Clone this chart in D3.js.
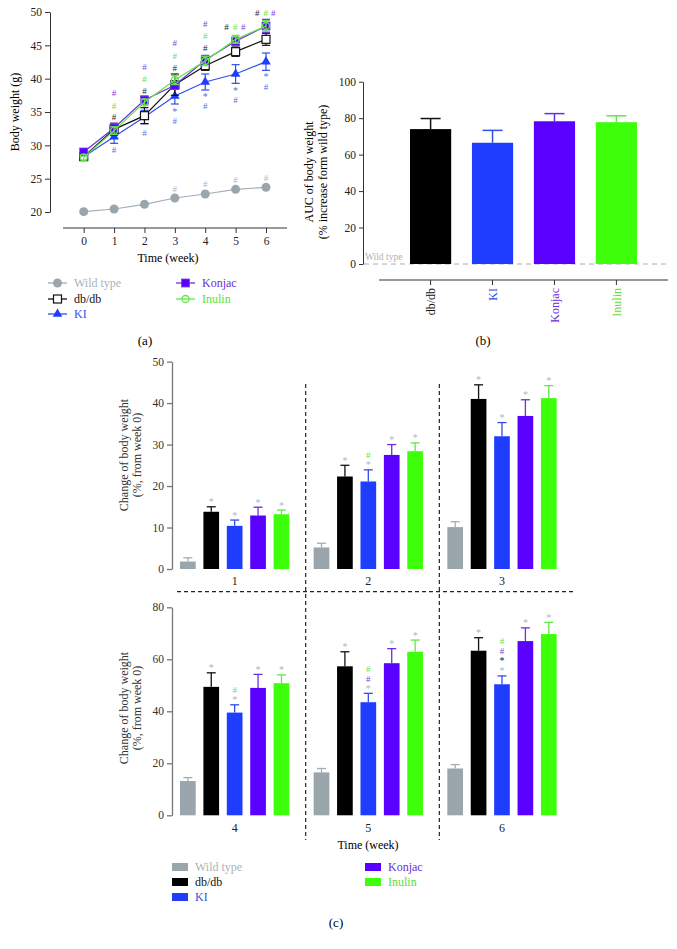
<!DOCTYPE html>
<html><head><meta charset="utf-8">
<script src="https://cdn.jsdelivr.net/npm/d3@7/dist/d3.min.js"></script>
<style>
body{margin:0;background:#fff}
text{font-family:"Liberation Serif","Times New Roman",serif}
</style>
</head><body>
<svg id="chart" width="677" height="949"></svg>
<script>
// ---------- DATA ----------
const groups = ["Wild type", "db/db", "KI", "Konjac", "Inulin"];
const weeks = [0, 1, 2, 3, 4, 5, 6];
// (a) body weight (g)
const bwWild   = [20.05, 20.45, 21.15, 22.1, 22.7, 23.4, 23.7];
const bwDb     = [28.3, 32.4, 34.45, 39.1, 41.95, 44.05, 45.9];
const bwKI     = [28.3, 31.3, 34.25, 37.4, 39.5, 40.7, 42.55];
const bwKonjac = [29.0, 32.6, 36.8, 39.0, 42.8, 45.6, 47.9];
const bwInulin = [28.2, 32.2, 36.45, 39.8, 42.65, 45.9, 47.9];
const seWild   = [0.2, 0.2, 0.2, 0.2, 0.2, 0.2, 0.2];
const seDb     = [0.5, 0.9, 1.2, 1.6, 0.7, 0.7, 0.9];
const seKI     = [0.5, 1.0, 1.0, 1.2, 1.2, 1.4, 1.3];
const seKonjac = [0.5, 0.7, 0.6, 0.6, 0.7, 0.6, 1.0];
const seInulin = [0.4, 0.6, 0.5, 0.7, 0.7, 0.6, 0.8];
// (a) significance marks: [week, y value, symbol, group index]
const bwMarks = [
  [1,37.9,"#",3],[1,35.95,"#",4],[1,34.3,"#",1],[1,29.3,"#",2],
  [2,41.8,"#",3],[2,39.9,"#",4],[2,38.2,"#",1],[2,31.8,"#",2],
  [3,45.3,"#",3],[3,43.45,"#",4],[3,41.65,"#",1],[3,35.1,"*",2],[3,33.6,"#",2],[3,23.4,"#",0],
  [4,48.2,"#",3],[4,46.4,"#",4],[4,44.65,"#",1],[4,37.3,"*",2],[4,35.9,"#",2],[4,24.15,"#",0],
  [4.70,47.8,"#",1],[4.99,47.8,"#",4],[5.25,47.8,"#",3],[5,38.2,"*",2],[5,36.8,"#",2],[5,24.8,"#",0],
  [5.71,49.9,"#",1],[5.99,49.9,"#",4],[6.24,49.9,"#",3],[6,40.3,"*",2],[6,38.8,"#",2],[6,25.05,"#",0]
];
// (b) AUC of body weight (% increase from wild type)
const aucGroups = ["db/db", "KI", "Konjac", "Inulin"];
const aucVals = [74.0, 66.5, 78.3, 77.8];
const aucErr  = [5.8, 6.8, 4.2, 3.5];
// (c) change of body weight (%, from week 0), weeks 1..6
const cWeeks  = ["1", "2", "3", "4", "5", "6"];
const cWild   = [1.8, 5.2, 10.1, 13.2, 16.5, 18.0];
const cDb     = [13.8, 22.3, 41.0, 49.4, 57.3, 63.3];
const cKI     = [10.4, 21.1, 32.0, 39.5, 43.5, 50.4];
const cKonjac = [12.9, 27.5, 36.9, 49.0, 58.5, 67.0];
const cInulin = [13.2, 28.4, 41.2, 50.8, 62.9, 69.7];
const eWild   = [0.9, 1.0, 1.3, 1.3, 1.5, 1.5];
const eDb     = [1.2, 2.7, 3.4, 5.4, 5.6, 5.0];
const eKI     = [1.4, 2.8, 3.3, 3.0, 3.4, 3.2];
const eKonjac = [2.0, 2.5, 3.9, 5.2, 5.6, 5.1];
const eInulin = [1.0, 2.0, 3.0, 3.2, 4.5, 4.5];
// (c) marks stacked above bars: [week index, group index, symbols bottom->top as "symbol + colour group"]
const cMarks = [
  [0,1,["*0"]],[0,2,["*0"]],[0,3,["*0"]],[0,4,["*0"]],
  [1,1,["*0"]],[1,2,["*0","#4"]],[1,3,["*0"]],[1,4,["*0"]],
  [2,1,["*0"]],[2,2,["*0"]],[2,3,["*0"]],[2,4,["*0"]],
  [3,1,["*0"]],[3,2,["*0","#4"]],[3,3,["*0"]],[3,4,["*0"]],
  [4,1,["*0"]],[4,2,["*0","#3","#4"]],[4,3,["*0"]],[4,4,["*0"]],
  [5,1,["*0"]],[5,2,["*0","*1","#3","#4"]],[5,3,["*0"]],[5,4,["*0"]]
];

// ---------- STYLE ----------
const fillCol = ["#9aa6ac", "#000000", "#1f3dff", "#5a00ff", "#3dff0a"];
const lineCol = ["#a3aeb3", "#111111", "#2f4fe8", "#6a2ee0", "#62e64a"];
const textCol = ["#a9b3ba", "#111111", "#3552e0", "#6a2ed8", "#5de03c"];
const markCol = ["#a9b7c6", "#222222", "#5a6ee8", "#7a3fe0", "#6ae048"];

const svg = d3.select("#chart");
const fnt = (s, sz) => s.style("font-size", sz + "px");

function drawMarker(sel, k, cx, cy) {
  if (k === 0) sel.append("circle").attr("cx", cx).attr("cy", cy).attr("r", 4.5).attr("fill", fillCol[0]);
  if (k === 1) sel.append("rect").attr("x", cx - 4).attr("y", cy - 4).attr("width", 8).attr("height", 8).attr("fill", "#fff").attr("stroke", "#111").attr("stroke-width", 1.2);
  if (k === 2) sel.append("path").attr("d", d3.symbol(d3.symbolTriangle, 40)()).attr("transform", `translate(${cx},${cy})`).attr("fill", fillCol[2]);
  if (k === 3) sel.append("rect").attr("x", cx - 4).attr("y", cy - 4).attr("width", 8).attr("height", 8).attr("fill", fillCol[3]).attr("stroke", "#7a45e8").attr("stroke-width", 0.8);
  if (k === 4) sel.append("circle").attr("cx", cx).attr("cy", cy).attr("r", 3.5).attr("fill", "none").attr("stroke", lineCol[4]).attr("stroke-width", 1.3);
}

// ---------- PANEL (a) ----------
{
  const x = d3.scaleLinear().domain([0, 6]).range([83.7, 266]);
  const y = d3.scaleLinear().domain([20, 50]).range([212, 12]);
  const g = svg.append("g");
  const ya = g.append("g").attr("transform", "translate(50,0)")
    .call(d3.axisLeft(y).tickValues([20,25,30,35,40,45,50]).tickSize(5).tickSizeOuter(0));
  ya.selectAll("path,line").attr("stroke", "#333");
  fnt(ya.selectAll("text").attr("fill", "#222"), 11.5);
  const xa = g.append("g").attr("transform", "translate(0,228)")
    .call(d3.axisBottom(x).tickValues(weeks).tickFormat(d3.format("d")).tickSize(5).tickPadding(4));
  xa.select(".domain").remove();
  xa.append("line").attr("x1", x(-0.68)).attr("x2", x(6.69)).attr("stroke", "#333");
  xa.selectAll("line").attr("stroke", "#333");
  fnt(xa.selectAll("text").attr("fill", "#222"), 11.5);
  fnt(g.append("text").attr("x", 168).attr("y", 262).attr("text-anchor", "middle").text("Time (week)"), 12);
  fnt(g.append("text").attr("transform", "translate(19,112) rotate(-90)").attr("text-anchor", "middle").text("Body weight (g)"), 12);

  const series = [[bwWild, seWild], [bwDb, seDb], [bwKI, seKI], [bwKonjac, seKonjac], [bwInulin, seInulin]];
  const order = [0, 2, 1, 3, 4];
  const line = d3.line().x((d, i) => x(weeks[i])).y(d => y(d));
  order.forEach(k => {
    const [vals, se] = series[k];
    const sg = g.append("g");
    sg.append("path").attr("d", line(vals)).attr("fill", "none").attr("stroke", lineCol[k]).attr("stroke-width", 1.2);
    vals.forEach((v, i) => {
      if (k === 0) return;
      const cx = x(weeks[i]);
      sg.append("line").attr("x1", cx).attr("x2", cx).attr("y1", y(v - se[i])).attr("y2", y(v + se[i])).attr("stroke", lineCol[k]).attr("stroke-width", 1.2);
      [v - se[i], v + se[i]].forEach(e => sg.append("line").attr("x1", cx - 4).attr("x2", cx + 4).attr("y1", y(e)).attr("y2", y(e)).attr("stroke", lineCol[k]).attr("stroke-width", 1.2));
    });
    vals.forEach((v, i) => drawMarker(sg, k, x(weeks[i]), y(v)));
  });
  bwMarks.forEach(([wk, v, s, k]) => {
    fnt(g.append("text").attr("x", x(wk)).attr("y", y(v)).attr("dy", "0.35em").attr("text-anchor", "middle")
      .attr("fill", markCol[k]).text(s), s === "*" ? 10 : 9);
  });
  // legend
  const lg = [[0, 48, 283], [1, 48, 299], [2, 48, 314], [3, 176, 283], [4, 176, 299]];
  lg.forEach(([k, lx, ly]) => {
    g.append("line").attr("x1", lx).attr("x2", lx + 19).attr("y1", ly).attr("y2", ly).attr("stroke", lineCol[k]).attr("stroke-width", 1.3);
    drawMarker(g, k, lx + 9.5, ly);
    fnt(g.append("text").attr("x", lx + 26).attr("y", ly).attr("dy", "0.35em").attr("fill", textCol[k]).text(groups[k]), 12);
  });
  fnt(g.append("text").attr("x", 145).attr("y", 340).attr("dy", "0.35em").attr("text-anchor", "middle").text("(a)"), 13);
}

// ---------- PANEL (b) ----------
{
  const g = svg.append("g");
  const x = d3.scaleBand().domain(aucGroups).range([410, 637]).paddingInner(0.335).paddingOuter(0);
  const y = d3.scaleLinear().domain([0, 100]).range([264, 81.7]);
  const ya = g.append("g").attr("transform", "translate(363,0)")
    .call(d3.axisLeft(y).tickValues([0,20,40,60,80,100]).tickSize(4).tickSizeOuter(0));
  ya.selectAll("path,line").attr("stroke", "#333");
  fnt(ya.selectAll("text").attr("fill", "#222"), 11.5);
  g.append("line").attr("x1", 364).attr("x2", 666).attr("y1", y(0)).attr("y2", y(0))
    .attr("stroke", "#a9b0b5").attr("stroke-dasharray", "5,4").attr("stroke-width", 1);
  fnt(g.append("text").attr("x", 365).attr("y", y(0) - 4).attr("fill", "#aab2b8").text("Wild type"), 9.5);
  aucGroups.forEach((name, i) => {
    const k = i + 1, bx = x(name), bw = x.bandwidth(), cx = bx + bw / 2;
    g.append("line").attr("x1", cx).attr("x2", cx).attr("y1", y(aucVals[i])).attr("y2", y(aucVals[i] + aucErr[i])).attr("stroke", lineCol[k]).attr("stroke-width", 1.5);
    g.append("line").attr("x1", cx - 10).attr("x2", cx + 10).attr("y1", y(aucVals[i] + aucErr[i])).attr("y2", y(aucVals[i] + aucErr[i])).attr("stroke", lineCol[k]).attr("stroke-width", 1.5);
    g.append("rect").attr("x", bx).attr("y", y(aucVals[i])).attr("width", bw).attr("height", y(0) - y(aucVals[i])).attr("fill", fillCol[k]);
  });
  const xa = g.append("g").attr("transform", "translate(0,280)")
    .call(d3.axisBottom(x).tickSize(5).tickSizeOuter(0));
  xa.select(".domain").remove();
  xa.append("line").attr("x1", 379).attr("x2", 668).attr("stroke", "#333");
  xa.selectAll("line").attr("stroke", "#333");
  xa.selectAll(".tick text").attr("transform", "rotate(-90)").attr("text-anchor", "end")
    .attr("x", -8).attr("y", 0).attr("dy", "0.35em")
    .attr("fill", (d, i) => textCol[i + 1]).style("font-size", "12px");
  const yl = g.append("text").attr("transform", "translate(313,172) rotate(-90)").attr("text-anchor", "middle");
  fnt(yl.append("tspan").attr("x", 0).attr("dy", 0).text("AUC of body weight"), 12);
  fnt(yl.append("tspan").attr("x", 0).attr("dy", 14).text("(% increase form wild type)"), 12);
  fnt(g.append("text").attr("x", 483).attr("y", 340).attr("dy", "0.35em").attr("text-anchor", "middle").text("(b)"), 13);
}

// ---------- PANEL (c) ----------
{
  const g = svg.append("g");
  const vals = [cWild, cDb, cKI, cKonjac, cInulin];
  const errs = [eWild, eDb, eKI, eKonjac, eInulin];
  const topW = cWeeks.slice(0, 3), botW = cWeeks.slice(3);
  const xTop = d3.scaleBand().domain(topW).range([172, 573]);
  const xBot = d3.scaleBand().domain(botW).range([172, 573]);
  const xIn = d3.scaleBand().domain(groups).range([8, 117.3]).paddingInner(0.33).paddingOuter(0);
  const panels = [
    {w: topW, x: xTop, y: d3.scaleLinear().domain([0, 50]).range([569, 361.6]), ticks: [0,10,20,30,40,50], off: 0, labY: 581, titleY: 455},
    {w: botW, x: xBot, y: d3.scaleLinear().domain([0, 80]).range([815.3, 607.3]), ticks: [0,20,40,60,80], off: 3, labY: 828, titleY: 708}
  ];
  panels.forEach(p => {
    const ya = g.append("g").attr("transform", "translate(172,0)")
      .call(d3.axisLeft(p.y).tickValues(p.ticks).tickSize(5).tickSizeOuter(0));
    ya.selectAll("path,line").attr("stroke", "#777").attr("stroke-width", 1.3);
    fnt(ya.selectAll("text").attr("fill", "#333"), 11.5);
    const yl = g.append("text").attr("transform", `translate(128,${p.titleY}) rotate(-90)`).attr("text-anchor", "middle").attr("fill", "#333");
    fnt(yl.append("tspan").attr("x", 0).attr("dy", 0).text("Change of body weight"), 12);
    fnt(yl.append("tspan").attr("x", 0).attr("dy", 13).text("(%, from week 0)"), 12);
    p.w.forEach((wk, wi) => {
      const gi = wi + p.off;
      const gx = p.x(wk);
      groups.forEach((gr, k) => {
        const v = vals[k][gi], e = errs[k][gi];
        const bx = gx + xIn(gr), bw = xIn.bandwidth(), cx = bx + bw / 2;
        g.append("line").attr("x1", cx).attr("x2", cx).attr("y1", p.y(v)).attr("y2", p.y(v + e)).attr("stroke", lineCol[k]).attr("stroke-width", 1.3);
        g.append("line").attr("x1", cx - 4.5).attr("x2", cx + 4.5).attr("y1", p.y(v + e)).attr("y2", p.y(v + e)).attr("stroke", lineCol[k]).attr("stroke-width", 1.3);
        g.append("rect").attr("x", bx).attr("y", p.y(v)).attr("width", bw).attr("height", p.y(0) - p.y(v)).attr("fill", fillCol[k]);
      });
      fnt(g.append("text").attr("y", p.labY).attr("dy", "0.35em")
        .attr("x", gx + (xIn("Wild type") + xIn("Inulin") + xIn.bandwidth()) / 2).attr("text-anchor", "middle").attr("fill", "#222").text(wk), 12);
    });
  });
  // significance marks
  cMarks.forEach(([wi, k, syms]) => {
    const p = wi < 3 ? panels[0] : panels[1];
    const gx = p.x(cWeeks[wi]);
    const cx = gx + xIn(groups[k]) + xIn.bandwidth() / 2;
    const top = p.y(vals[k][wi] + errs[k][wi]);
    syms.forEach((s, j) => {
      const sym = s[0], ck = +s[1];
      fnt(g.append("text").attr("x", cx).attr("y", top - 5 - j * 10).attr("dy", "0.35em").attr("text-anchor", "middle")
        .attr("fill", markCol[ck]).text(sym), sym === "*" ? 10 : 9);
    });
  });
  // dashed separators
  [xTop("2"), xTop("3")].forEach(dx => g.append("line").attr("x1", dx).attr("x2", dx).attr("y1", 384).attr("y2", 840)
    .attr("stroke", "#222").attr("stroke-dasharray", "4,3").attr("stroke-width", 1.2));
  g.append("line").attr("x1", 177).attr("x2", 575).attr("y1", 591.7).attr("y2", 591.7)
    .attr("stroke", "#222").attr("stroke-dasharray", "4,3").attr("stroke-width", 1.2);
  fnt(g.append("text").attr("x", 368).attr("y", 845).attr("dy", "0.35em").attr("text-anchor", "middle").text("Time (week)"), 12);
  // legend
  const lg = [[0, 172, 867], [1, 172, 882], [2, 172, 897], [3, 365, 867], [4, 365, 882]];
  lg.forEach(([k, lx, ly]) => {
    g.append("rect").attr("x", lx).attr("y", ly - 4).attr("width", 16).attr("height", 8).attr("fill", fillCol[k]);
    fnt(g.append("text").attr("x", lx + 23).attr("y", ly).attr("dy", "0.35em").attr("fill", textCol[k]).text(groups[k]), 12);
  });
  fnt(g.append("text").attr("x", 336).attr("y", 922).attr("dy", "0.35em").attr("text-anchor", "middle").text("(c)"), 13);
}
</script>
</body></html>
